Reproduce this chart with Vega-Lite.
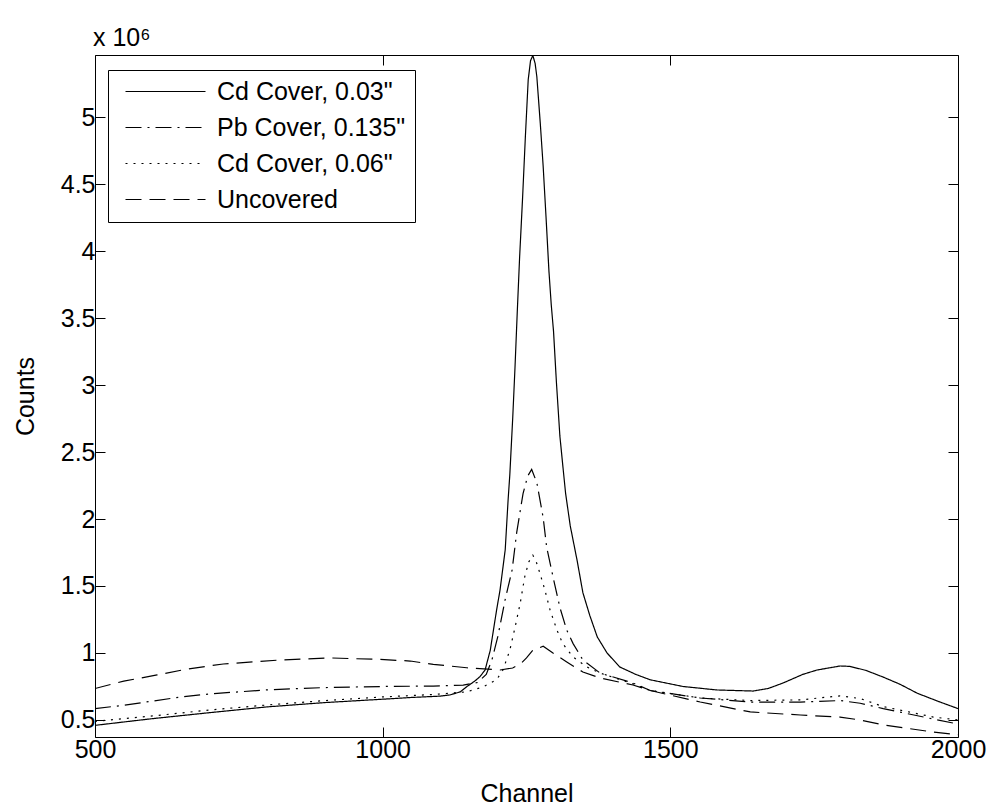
{
  "$schema": "https://vega.github.io/schema/vega-lite/v6.json",
  "width": 863,
  "height": 682,
  "autosize": {"type": "none"},
  "padding": {"left": 95, "top": 55, "right": 32, "bottom": 69},
  "background": "white",
  "config": {
    "font": "Liberation Sans",
    "view": {"stroke": "#000", "strokeWidth": 1},
    "axis": {"grid": false, "domain": false, "tickColor": "#000", "tickSize": -10, "tickWidth": 1, "labelColor": "#000", "labelFontSize": 25, "titleFontSize": 25, "titleFontWeight": "normal", "titleColor": "#000", "labelFont": "Liberation Sans", "titleFont": "Liberation Sans", "labelFlush": false},
    "legend": {"labelFont": "Liberation Sans"}
  },
  "title": {"text": "x 10⁶", "anchor": "start", "frame": "group", "orient": "top", "offset": 12, "dy": 30, "fontSize": 25, "fontWeight": "normal", "color": "#000", "dx": -2, "baseline": "alphabetic"},
  "data": {"values": [
    {"series": "Cd Cover, 0.03\"", "channel": 500, "counts": 460000},
    {"series": "Cd Cover, 0.03\"", "channel": 600, "counts": 510000},
    {"series": "Cd Cover, 0.03\"", "channel": 700, "counts": 555000},
    {"series": "Cd Cover, 0.03\"", "channel": 800, "counts": 598000},
    {"series": "Cd Cover, 0.03\"", "channel": 900, "counts": 630000},
    {"series": "Cd Cover, 0.03\"", "channel": 1000, "counts": 655000},
    {"series": "Cd Cover, 0.03\"", "channel": 1050, "counts": 668000},
    {"series": "Cd Cover, 0.03\"", "channel": 1100, "counts": 678000},
    {"series": "Cd Cover, 0.03\"", "channel": 1117, "counts": 687000},
    {"series": "Cd Cover, 0.03\"", "channel": 1135, "counts": 710000},
    {"series": "Cd Cover, 0.03\"", "channel": 1146, "counts": 748000},
    {"series": "Cd Cover, 0.03\"", "channel": 1160, "counts": 790000},
    {"series": "Cd Cover, 0.03\"", "channel": 1169, "counts": 823000},
    {"series": "Cd Cover, 0.03\"", "channel": 1178, "counts": 873000},
    {"series": "Cd Cover, 0.03\"", "channel": 1187, "counts": 1020000},
    {"series": "Cd Cover, 0.03\"", "channel": 1198, "counts": 1320000},
    {"series": "Cd Cover, 0.03\"", "channel": 1204, "counts": 1470000},
    {"series": "Cd Cover, 0.03\"", "channel": 1213, "counts": 1770000},
    {"series": "Cd Cover, 0.03\"", "channel": 1218, "counts": 2140000},
    {"series": "Cd Cover, 0.03\"", "channel": 1221, "counts": 2330000},
    {"series": "Cd Cover, 0.03\"", "channel": 1226, "counts": 2750000},
    {"series": "Cd Cover, 0.03\"", "channel": 1230, "counts": 3130000},
    {"series": "Cd Cover, 0.03\"", "channel": 1234, "counts": 3550000},
    {"series": "Cd Cover, 0.03\"", "channel": 1238, "counts": 3950000},
    {"series": "Cd Cover, 0.03\"", "channel": 1243, "counts": 4380000},
    {"series": "Cd Cover, 0.03\"", "channel": 1248, "counts": 4850000},
    {"series": "Cd Cover, 0.03\"", "channel": 1253, "counts": 5280000},
    {"series": "Cd Cover, 0.03\"", "channel": 1257, "counts": 5420000},
    {"series": "Cd Cover, 0.03\"", "channel": 1261, "counts": 5460000},
    {"series": "Cd Cover, 0.03\"", "channel": 1265, "counts": 5400000},
    {"series": "Cd Cover, 0.03\"", "channel": 1268, "counts": 5300000},
    {"series": "Cd Cover, 0.03\"", "channel": 1274, "counts": 4950000},
    {"series": "Cd Cover, 0.03\"", "channel": 1279, "counts": 4630000},
    {"series": "Cd Cover, 0.03\"", "channel": 1284, "counts": 4250000},
    {"series": "Cd Cover, 0.03\"", "channel": 1289, "counts": 3850000},
    {"series": "Cd Cover, 0.03\"", "channel": 1293, "counts": 3600000},
    {"series": "Cd Cover, 0.03\"", "channel": 1297, "counts": 3400000},
    {"series": "Cd Cover, 0.03\"", "channel": 1302, "counts": 3020000},
    {"series": "Cd Cover, 0.03\"", "channel": 1308, "counts": 2620000},
    {"series": "Cd Cover, 0.03\"", "channel": 1314, "counts": 2360000},
    {"series": "Cd Cover, 0.03\"", "channel": 1318, "counts": 2190000},
    {"series": "Cd Cover, 0.03\"", "channel": 1326, "counts": 1950000},
    {"series": "Cd Cover, 0.03\"", "channel": 1338, "counts": 1690000},
    {"series": "Cd Cover, 0.03\"", "channel": 1348, "counts": 1450000},
    {"series": "Cd Cover, 0.03\"", "channel": 1360, "counts": 1280000},
    {"series": "Cd Cover, 0.03\"", "channel": 1373, "counts": 1120000},
    {"series": "Cd Cover, 0.03\"", "channel": 1390, "counts": 1000000},
    {"series": "Cd Cover, 0.03\"", "channel": 1412, "counts": 896000},
    {"series": "Cd Cover, 0.03\"", "channel": 1440, "counts": 840000},
    {"series": "Cd Cover, 0.03\"", "channel": 1465, "counts": 800000},
    {"series": "Cd Cover, 0.03\"", "channel": 1522, "counts": 750000},
    {"series": "Cd Cover, 0.03\"", "channel": 1581, "counts": 724000},
    {"series": "Cd Cover, 0.03\"", "channel": 1644, "counts": 716000},
    {"series": "Cd Cover, 0.03\"", "channel": 1670, "counts": 735000},
    {"series": "Cd Cover, 0.03\"", "channel": 1696, "counts": 776000},
    {"series": "Cd Cover, 0.03\"", "channel": 1730, "counts": 840000},
    {"series": "Cd Cover, 0.03\"", "channel": 1755, "counts": 873000},
    {"series": "Cd Cover, 0.03\"", "channel": 1795, "counts": 903000},
    {"series": "Cd Cover, 0.03\"", "channel": 1812, "counts": 900000},
    {"series": "Cd Cover, 0.03\"", "channel": 1840, "counts": 870000},
    {"series": "Cd Cover, 0.03\"", "channel": 1870, "counts": 820000},
    {"series": "Cd Cover, 0.03\"", "channel": 1900, "counts": 765000},
    {"series": "Cd Cover, 0.03\"", "channel": 1929, "counts": 700000},
    {"series": "Cd Cover, 0.03\"", "channel": 1965, "counts": 640000},
    {"series": "Cd Cover, 0.03\"", "channel": 2000, "counts": 585000},

    {"series": "Pb Cover, 0.135\"", "channel": 500, "counts": 585000},
    {"series": "Pb Cover, 0.135\"", "channel": 550, "counts": 610000},
    {"series": "Pb Cover, 0.135\"", "channel": 650, "counts": 672000},
    {"series": "Pb Cover, 0.135\"", "channel": 700, "counts": 695000},
    {"series": "Pb Cover, 0.135\"", "channel": 800, "counts": 725000},
    {"series": "Pb Cover, 0.135\"", "channel": 900, "counts": 742000},
    {"series": "Pb Cover, 0.135\"", "channel": 1000, "counts": 750000},
    {"series": "Pb Cover, 0.135\"", "channel": 1088, "counts": 753000},
    {"series": "Pb Cover, 0.135\"", "channel": 1140, "counts": 760000},
    {"series": "Pb Cover, 0.135\"", "channel": 1165, "counts": 780000},
    {"series": "Pb Cover, 0.135\"", "channel": 1180, "counts": 840000},
    {"series": "Pb Cover, 0.135\"", "channel": 1190, "counts": 950000},
    {"series": "Pb Cover, 0.135\"", "channel": 1200, "counts": 1120000},
    {"series": "Pb Cover, 0.135\"", "channel": 1213, "counts": 1400000},
    {"series": "Pb Cover, 0.135\"", "channel": 1225, "counts": 1620000},
    {"series": "Pb Cover, 0.135\"", "channel": 1233, "counts": 1900000},
    {"series": "Pb Cover, 0.135\"", "channel": 1244, "counts": 2190000},
    {"series": "Pb Cover, 0.135\"", "channel": 1252, "counts": 2320000},
    {"series": "Pb Cover, 0.135\"", "channel": 1259, "counts": 2370000},
    {"series": "Pb Cover, 0.135\"", "channel": 1268, "counts": 2270000},
    {"series": "Pb Cover, 0.135\"", "channel": 1279, "counts": 2010000},
    {"series": "Pb Cover, 0.135\"", "channel": 1285, "counts": 1790000},
    {"series": "Pb Cover, 0.135\"", "channel": 1296, "counts": 1570000},
    {"series": "Pb Cover, 0.135\"", "channel": 1308, "counts": 1340000},
    {"series": "Pb Cover, 0.135\"", "channel": 1320, "counts": 1170000},
    {"series": "Pb Cover, 0.135\"", "channel": 1331, "counts": 1070000},
    {"series": "Pb Cover, 0.135\"", "channel": 1348, "counts": 948000},
    {"series": "Pb Cover, 0.135\"", "channel": 1378, "counts": 850000},
    {"series": "Pb Cover, 0.135\"", "channel": 1435, "counts": 776000},
    {"series": "Pb Cover, 0.135\"", "channel": 1465, "counts": 720000},
    {"series": "Pb Cover, 0.135\"", "channel": 1552, "counts": 664000},
    {"series": "Pb Cover, 0.135\"", "channel": 1639, "counts": 634000},
    {"series": "Pb Cover, 0.135\"", "channel": 1726, "counts": 634000},
    {"series": "Pb Cover, 0.135\"", "channel": 1795, "counts": 645000},
    {"series": "Pb Cover, 0.135\"", "channel": 1830, "counts": 625000},
    {"series": "Pb Cover, 0.135\"", "channel": 1870, "counts": 585000},
    {"series": "Pb Cover, 0.135\"", "channel": 1957, "counts": 507000},
    {"series": "Pb Cover, 0.135\"", "channel": 2000, "counts": 470000},

    {"series": "Cd Cover, 0.06\"", "channel": 500, "counts": 490000},
    {"series": "Cd Cover, 0.06\"", "channel": 600, "counts": 530000},
    {"series": "Cd Cover, 0.06\"", "channel": 700, "counts": 575000},
    {"series": "Cd Cover, 0.06\"", "channel": 800, "counts": 612000},
    {"series": "Cd Cover, 0.06\"", "channel": 900, "counts": 645000},
    {"series": "Cd Cover, 0.06\"", "channel": 1000, "counts": 672000},
    {"series": "Cd Cover, 0.06\"", "channel": 1088, "counts": 690000},
    {"series": "Cd Cover, 0.06\"", "channel": 1146, "counts": 710000},
    {"series": "Cd Cover, 0.06\"", "channel": 1174, "counts": 746000},
    {"series": "Cd Cover, 0.06\"", "channel": 1198, "counts": 800000},
    {"series": "Cd Cover, 0.06\"", "channel": 1209, "counts": 873000},
    {"series": "Cd Cover, 0.06\"", "channel": 1221, "counts": 1020000},
    {"series": "Cd Cover, 0.06\"", "channel": 1230, "counts": 1190000},
    {"series": "Cd Cover, 0.06\"", "channel": 1239, "counts": 1370000},
    {"series": "Cd Cover, 0.06\"", "channel": 1247, "counts": 1570000},
    {"series": "Cd Cover, 0.06\"", "channel": 1254, "counts": 1680000},
    {"series": "Cd Cover, 0.06\"", "channel": 1261, "counts": 1730000},
    {"series": "Cd Cover, 0.06\"", "channel": 1267, "counts": 1680000},
    {"series": "Cd Cover, 0.06\"", "channel": 1273, "counts": 1600000},
    {"series": "Cd Cover, 0.06\"", "channel": 1282, "counts": 1470000},
    {"series": "Cd Cover, 0.06\"", "channel": 1291, "counts": 1320000},
    {"series": "Cd Cover, 0.06\"", "channel": 1303, "counts": 1170000},
    {"series": "Cd Cover, 0.06\"", "channel": 1313, "counts": 1070000},
    {"series": "Cd Cover, 0.06\"", "channel": 1331, "counts": 970000},
    {"series": "Cd Cover, 0.06\"", "channel": 1355, "counts": 896000},
    {"series": "Cd Cover, 0.06\"", "channel": 1378, "counts": 850000},
    {"series": "Cd Cover, 0.06\"", "channel": 1435, "counts": 770000},
    {"series": "Cd Cover, 0.06\"", "channel": 1465, "counts": 720000},
    {"series": "Cd Cover, 0.06\"", "channel": 1552, "counts": 664000},
    {"series": "Cd Cover, 0.06\"", "channel": 1639, "counts": 645000},
    {"series": "Cd Cover, 0.06\"", "channel": 1726, "counts": 650000},
    {"series": "Cd Cover, 0.06\"", "channel": 1795, "counts": 680000},
    {"series": "Cd Cover, 0.06\"", "channel": 1830, "counts": 660000},
    {"series": "Cd Cover, 0.06\"", "channel": 1870, "counts": 600000},
    {"series": "Cd Cover, 0.06\"", "channel": 1957, "counts": 522000},
    {"series": "Cd Cover, 0.06\"", "channel": 2000, "counts": 500000},

    {"series": "Uncovered", "channel": 500, "counts": 735000},
    {"series": "Uncovered", "channel": 550, "counts": 790000},
    {"series": "Uncovered", "channel": 608, "counts": 836000},
    {"series": "Uncovered", "channel": 660, "counts": 880000},
    {"series": "Uncovered", "channel": 723, "counts": 918000},
    {"series": "Uncovered", "channel": 822, "counts": 948000},
    {"series": "Uncovered", "channel": 908, "counts": 963000},
    {"series": "Uncovered", "channel": 995, "counts": 952000},
    {"series": "Uncovered", "channel": 1048, "counts": 940000},
    {"series": "Uncovered", "channel": 1088, "counts": 915000},
    {"series": "Uncovered", "channel": 1146, "counts": 890000},
    {"series": "Uncovered", "channel": 1204, "counts": 873000},
    {"series": "Uncovered", "channel": 1226, "counts": 888000},
    {"series": "Uncovered", "channel": 1240, "counts": 920000},
    {"series": "Uncovered", "channel": 1250, "counts": 963000},
    {"series": "Uncovered", "channel": 1261, "counts": 1020000},
    {"series": "Uncovered", "channel": 1279, "counts": 1050000},
    {"series": "Uncovered", "channel": 1296, "counts": 1000000},
    {"series": "Uncovered", "channel": 1320, "counts": 933000},
    {"series": "Uncovered", "channel": 1348, "counts": 858000},
    {"series": "Uncovered", "channel": 1378, "counts": 813000},
    {"series": "Uncovered", "channel": 1435, "counts": 761000},
    {"series": "Uncovered", "channel": 1465, "counts": 720000},
    {"series": "Uncovered", "channel": 1552, "counts": 634000},
    {"series": "Uncovered", "channel": 1639, "counts": 560000},
    {"series": "Uncovered", "channel": 1726, "counts": 537000},
    {"series": "Uncovered", "channel": 1795, "counts": 522000},
    {"series": "Uncovered", "channel": 1830, "counts": 500000},
    {"series": "Uncovered", "channel": 1870, "counts": 463000},
    {"series": "Uncovered", "channel": 1957, "counts": 410000},
    {"series": "Uncovered", "channel": 2000, "counts": 390000}
  ]},
  "layer": [
    {
      "mark": {"type": "line", "color": "#000", "strokeWidth": 1.2, "clip": true},
      "encoding": {
        "x": {"field": "channel", "type": "quantitative", "scale": {"domain": [500, 2000], "nice": false, "zero": false},
              "axis": {"values": [500, 1000, 1500, 2000], "format": "d", "title": "Channel", "labelPadding": 10, "titleY": 64, "titleBaseline": "alphabetic"}},
        "y": {"field": "counts", "type": "quantitative", "scale": {"domain": [373000, 5463000], "nice": false, "zero": false},
              "axis": {"values": [500000, 1000000, 1500000, 2000000, 2500000, 3000000, 3500000, 4000000, 4500000, 5000000], "labelExpr": "format(datum.value / 1000000, '~g')", "title": "Counts", "labelPadding": 10, "titleX": -62, "titleY": 341, "titleBaseline": "alphabetic", "titleAngle": -90}},
        "strokeDash": {"field": "series", "type": "nominal",
          "scale": {"domain": ["Cd Cover, 0.03\"", "Pb Cover, 0.135\"", "Cd Cover, 0.06\"", "Uncovered"], "range": [[1, 0], [16, 6, 2, 6], [2, 6], [16, 8]]},
          "legend": {"title": null, "orient": "none", "legendX": 13, "legendY": 15, "strokeColor": "#000", "fillColor": "#fff", "padding": 9, "symbolType": "M-0.4,0H7.6", "symbolSize": 400, "symbolStrokeWidth": 1.2, "symbolStrokeColor": "#000", "labelFontSize": 25, "labelColor": "#000", "labelOffset": 75, "rowPadding": 10, "labelLimit": 400}}
      }
    },
    {
      "mark": {"type": "point", "opacity": 0},
      "encoding": {
        "x": {"field": "channel", "type": "quantitative", "axis": {"orient": "top", "labels": false, "title": null, "values": [500, 1000, 1500, 2000]}},
        "y": {"field": "counts", "type": "quantitative", "axis": {"orient": "right", "labels": false, "title": null, "values": [500000, 1000000, 1500000, 2000000, 2500000, 3000000, 3500000, 4000000, 4500000, 5000000]}}
      }
    }
  ],
  "resolve": {"axis": {"x": "independent", "y": "independent"}}
}
